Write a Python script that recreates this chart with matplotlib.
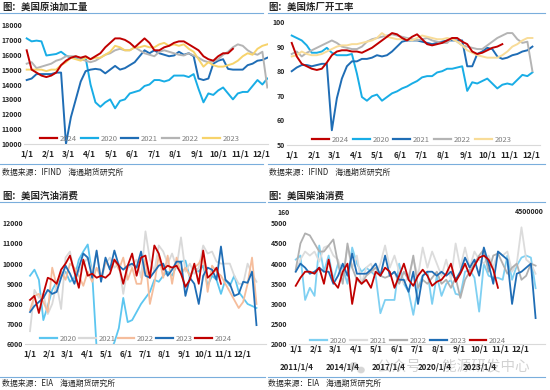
import matplotlib
matplotlib.use('Agg')
import matplotlib.pyplot as plt
from matplotlib.patches import Ellipse
from matplotlib.lines import Line2D

plt.rcParams['font.family'] = ['Noto Sans CJK SC', 'DejaVu Sans']

# ---------------- data ----------------
month_days = [0, 31, 59, 90, 120, 151, 181, 212, 243, 273, 304, 334]
month_labels = ['1/1', '2/1', '3/1', '4/1', '5/1', '6/1', '7/1', '8/1', '9/1', '10/1', '11/1', '12/1']

crude_2020 = [17100,16900,16950,16900,15950,16000,16050,16200,15950,15800,
              15800,15750,15800,14000,12800,12500,12800,13000,12400,12900,
              13000,13400,13500,13600,13900,14000,14300,14300,14200,14300,
              14600,14600,14600,14500,14700,13700,12800,13400,13300,13600,
              13800,13400,13000,13400,13500,13500,13900,14300,14000,14400]
crude_2021 = [14300,14400,14700,14700,14700,14700,14800,14800,10000,11800,
              13000,14200,14900,15000,15050,15000,14750,15000,15250,15000,
              15100,15300,15500,15900,16300,16100,16300,16100,16000,15900,
              15950,16200,16000,16100,15900,14400,14300,14400,15400,15600,
              15700,15050,15000,15000,15000,15300,15400,15600,15650,15800]
crude_2022 = [15400,15500,15100,15200,15300,15400,15600,15700,15900,15900,
              15900,15700,15600,15500,15600,15800,16000,16100,16300,16400,
              16300,16300,16500,16300,16100,16000,15900,16200,16300,16200,
              16100,16000,15950,16100,15950,15800,15600,15500,15550,15700,
              16000,16200,16500,16700,16600,16300,16100,16000,16200,13800]
crude_2023 = [15000,15000,15000,15000,14900,15000,15000,15300,15500,15800,
              15700,15600,15800,15700,15800,15800,16000,16200,16600,16500,
              16300,16300,16500,16500,16600,16500,16500,16700,16800,16600,
              16700,16600,16700,16400,16200,15700,15200,15500,15300,15200,
              15200,15300,15400,15600,15900,16100,16000,16400,16600,16700]
crude_2024 = [16300,15000,14800,14600,14500,14600,14800,15300,15600,15800,
              15900,15800,15900,15700,15900,16100,16500,16800,17100,17100,
              17000,16800,16500,16800,17100,16800,16300,16300,16500,16600,
              16800,16900,16900,16700,16500,16300,15900,15700,15600,15900,
              16100,16100,16400]

util_2020 = [94.5,93.5,92.5,90.5,87.5,87.5,88.0,89.5,87.5,86.5,
             86.5,86.5,87.0,79.0,69.5,68.0,69.8,70.5,68.0,69.5,
             71.0,71.8,73.0,73.8,75.0,76.0,77.5,78.0,78.0,79.5,
             80.0,81.0,81.0,81.5,82.0,72.0,75.5,75.0,76.0,77.0,
             75.0,73.0,74.5,75.0,74.5,76.5,78.5,78.0,79.5]
util_2021 = [80,81.5,82.5,82.5,82,82.5,83,83,56,69,
             77,82,84,84,85,85,85.5,86.5,86,86.5,
             88,90,92,92.5,92.5,92.5,92,91.5,91,91.5,
             92,92.5,92.5,92.5,92.5,82,82,87,88,89.5,
             89,86,85,85.5,86.5,87,88,88.5,90]
util_2022 = [87,88,86,87.5,88.5,89.5,90.5,91.5,92.5,91.5,
             90,89.5,89,89,90,92,93,93.5,94,94.5,
             95,94.5,94,93.5,93,92.5,93,93.5,92.5,92,
             91.5,91.5,93.5,92,90.5,90,89.5,89,89,90.5,
             92,93.5,94.5,95.5,95.5,93,91.5,92,80]
util_2023 = [86,86.5,88,87,86.5,86.5,87,88,89,90,
             90.5,90.5,91,91,91.5,92,92.5,93.5,95.5,94,
             93.5,93,93,93,92.5,93.5,94.5,94,93.5,93,
             93,93.5,93,92,90.5,88.5,87.5,86.5,86,85.5,
             85.5,85.5,86.5,88,90,91,92.5,93.5,93.5]
util_2024 = [91.5,86,83,82,81,80.5,81,83.5,86.5,88,
             88.5,88.5,88,88,87.5,88.5,89.5,91,92.5,94,
             95.5,95,93.5,92.5,94,95,93,91,90.5,91,
             91.5,92.5,93.5,93.5,92,91,88,87,87.5,88.5,
             89.5,90,91]

gas_2020 = [9400,9700,9200,7200,7900,8700,9100,9400,9600,9100,
            9300,10200,10600,10950,9500,5800,5100,5300,5600,6100,
            6800,8300,7100,7200,7600,8000,8300,8600,9200,9100,
            9400,9600,9400,9900,10100,10150,9300,9800,9600,9900,
            8900,9400,9200,8500,9200,8900,9400,8600,8300,8000,
            7900,7800]
gas_2021 = [6650,8700,8300,8500,7500,8000,9000,7750,10300,10600,
            9500,9600,10000,10300,9600,10600,9200,10000,10300,9800,
            10000,8500,9800,9900,10200,9300,11600,10200,9600,10900,
            10600,10000,10500,9800,11300,9600,10000,9500,9800,10900,
            10500,10600,10100,10000,10000,10000,9400,9000,9000,10000,
            9500,9100]
gas_2022 = [7700,8400,8500,8100,7600,9800,8900,9600,9200,10000,
            9800,9400,8900,9600,9100,9800,9300,10100,9800,10200,
            9700,10300,9200,9800,9000,9000,10300,8000,9000,10400,
            9300,10400,9000,10300,9500,9800,9400,9800,10000,10400,
            8600,9900,9600,9400,9000,8600,8200,7800,8100,9000,
            10300,8000]
gas_2023 = [7600,7900,8100,8300,8700,8500,8600,9300,9900,9500,
            9000,9800,10500,10300,9300,10650,9100,10300,9700,10650,
            9900,9700,9900,10000,9800,10600,9400,9300,9600,9900,
            10000,9400,9700,10100,10100,8400,9300,9000,8000,9400,
            9800,9700,9200,10850,9200,9000,8400,8500,9100,9050,
            9600,6950]
gas_2024 = [8200,8400,7550,8500,9300,9200,9000,9700,10000,10400,
            9600,8800,10200,9400,9500,9300,9400,9300,9500,10200,
            9900,9000,9900,10500,9400,10300,10400,9300,10900,10500,
            9700,9900,9800,9900,9500,8850,9200,10000,9000,10650,
            9300,9500,9800,9000]

diesel_2020 = [4100,4200,3100,3400,3200,4450,3800,4200,3600,4000,
               3900,3500,4400,4000,3800,3900,3800,3700,2770,3100,
               3100,3100,4000,3500,3300,2730,3400,3700,3800,3000,
               3700,3200,3500,3600,3250,3220,3800,3850,3650,2810,
               4000,3700,3650,3650,3600,4200,3600,3950,4150,4200,
               4150,3390]
diesel_2021 = [3800,4100,4300,4200,4300,4050,4400,4450,4200,4100,
               3700,4400,3900,4200,3500,3900,4000,3700,4000,4450,
               3900,4200,3800,3500,3700,4100,3700,4400,3900,4300,
               4000,3700,4100,3600,4500,3900,4400,3900,4300,4100,
               4000,4200,3900,4300,4200,4300,3800,4000,4900,4100,
               4000,3750]
diesel_2022 = [3850,4500,4750,4700,4500,4300,4300,4450,4600,4000,
               3500,4500,3900,3600,3500,3700,3800,3900,3700,3650,
               3700,3800,3500,3800,3600,4200,3400,3600,3500,3650,
               3800,3500,3600,3400,3650,3150,3600,3800,4000,4200,
               4350,3800,4200,4250,4000,3750,3900,4000,3600,3700,
               4000,3950]
diesel_2023 = [3800,4000,3900,3750,3800,3900,3800,3800,3500,3700,
               4000,3700,4250,3750,3750,3750,3850,4000,3700,4200,
               3700,3800,3600,3600,3300,3800,3000,3700,3800,3800,
               3700,3800,3700,3800,3600,3800,4150,3900,4100,3700,
               4400,4000,3500,4300,4200,4100,3000,3750,3800,3900,
               4000,2650]
diesel_2024 = [3450,3650,3800,3800,3750,3900,3500,4100,3550,3400,
               3800,4000,3000,3650,3500,3600,3400,3800,3700,3900,
               3800,3400,3700,4000,3600,3450,3700,3850,3700,3450,
               3550,3600,3750,4000,3550,3750,4000,3700,3950,4150,
               4200,4100,3850,3400]

date_row_labels = ['2011/1/4', '2014/1/4', '2017/1/4', '2020/1/4', '2023/1/4']

# ---------------- layout helpers ----------------
W, H = 550, 390
fig = plt.figure(figsize=(5.5, 3.9), dpi=100)


def rect(l, t, r, b):
    return [l / W, 1 - b / H, (r - l) / W, (b - t) / H]


def fx(x):
    return x / W


def fy(y):
    return 1 - y / H


def weeks(vals):
    return [7 * i for i in range(len(vals))]


TXT = '#262626'
LBL = '#7f7f7f'
SEP = '#7aaedc'


def setup(ax, xlim, ylim, yticks, xpad):
    ax.set_xlim(xlim)
    ax.set_ylim(ylim)
    ax.set_xticks(month_days)
    ax.set_xticklabels(month_labels, fontsize=6, fontweight='bold', color=TXT)
    ax.set_yticks(yticks)
    ax.set_yticklabels([f'{v:g}' for v in yticks], fontsize=5.0, fontweight='bold', color=TXT)
    for s in ['top', 'right', 'left']:
        ax.spines[s].set_visible(False)
    ax.spines['bottom'].set_color('#d9d9d9')
    ax.spines['bottom'].set_linewidth(0.8)
    ax.tick_params(axis='x', length=0, pad=xpad)
    ax.tick_params(axis='y', length=0, pad=1.5)
    ax.patch.set_alpha(0)


def legend(ax, handles, labels, x, y, colsp):
    ax.legend(handles, labels, loc='center left', bbox_to_anchor=(fx(x), fy(y)),
              bbox_transform=fig.transFigure, ncol=len(labels), frameon=False,
              fontsize=5.5, labelcolor=LBL, handlelength=2.2, handletextpad=0.35,
              columnspacing=colsp, borderpad=0, borderaxespad=0)


# ---------------- top-left: crude runs ----------------
axA = fig.add_axes(rect(24, 25, 268, 144))
setup(axA, (-3.85, 344), (10000, 18000), list(range(10000, 18001, 1000)), 4)
cA = {'2024': '#c00000', '2020': '#18ade6', '2021': '#1f6db5', '2022': '#b4b4b4', '2023': '#f7d36b'}
sA = {'2020': crude_2020, '2021': crude_2021, '2022': crude_2022, '2023': crude_2023, '2024': crude_2024}
for k in ['2020', '2021', '2022', '2023', '2024']:
    axA.plot(weeks(sA[k]), sA[k], color=cA[k], lw=1.4, solid_joinstyle='round')
order = ['2024', '2020', '2021', '2022', '2023']
legend(axA, [Line2D([], [], color=cA[k], lw=1.6) for k in order], order, 40, 139, 0.55)

# ---------------- top-right: utilization ----------------
axB = fig.add_axes(rect(287, 22, 540, 145))
setup(axB, (-6.6, 346.6), (50, 100), list(range(50, 101, 10)), 4)
cB = {'2024': '#c00000', '2020': '#18ade6', '2021': '#1f6db5', '2022': '#b4b4b4', '2023': '#f8dc98'}
sB = {'2020': util_2020, '2021': util_2021, '2022': util_2022, '2023': util_2023, '2024': util_2024}
for k in ['2020', '2021', '2022', '2023', '2024']:
    axB.plot(weeks(sB[k]), sB[k], color=cB[k], lw=1.4, solid_joinstyle='round')
legend(axB, [Line2D([], [], color=cB[k], lw=1.6) for k in order], order, 312, 140, 0.55)

# ---------------- bottom-left: gasoline ----------------
axC = fig.add_axes(rect(25, 223.3, 266, 344.3))
setup(axC, (-7.9, 372), (6000, 12000), list(range(6000, 12001, 1000)), 4)
cC = {'2020': '#5cc6f0', '2021': '#d9d9d9', '2022': '#f5bd9c', '2023': '#1f6db5', '2024': '#c00000'}
sC = {'2020': gas_2020, '2021': gas_2021, '2022': gas_2022, '2023': gas_2023, '2024': gas_2024}
order2 = ['2020', '2021', '2022', '2023', '2024']
for k in order2:
    axC.plot(weeks(sC[k]), sC[k], color=cC[k], lw=1.3, solid_joinstyle='round')
legend(axC, [Line2D([], [], color=cC[k], lw=1.6) for k in order2], order2, 40, 339, 0.3)

# ---------------- bottom-right: diesel ----------------
axD = fig.add_axes(rect(289, 223.3, 545, 344.3))
setup(axD, (-10, 371), (2000, 5000), list(range(2000, 5001, 500)), 0.5)
cD = {'2020': '#7fd0f2', '2021': '#dcdcdc', '2022': '#b0b0b0', '2023': '#1f6db5', '2024': '#c00000'}
sD = {'2020': diesel_2020, '2021': diesel_2021, '2022': diesel_2022, '2023': diesel_2023, '2024': diesel_2024}
for k in order2:
    axD.plot(weeks(sD[k]), sD[k], color=cD[k], lw=1.3, solid_joinstyle='round')
legend(axD, [Line2D([], [], color=cD[k], lw=1.6) for k in order2], order2, 310, 341, 0.45)

# ---------------- titles, sources, separators ----------------
fig.text(fx(2), fy(7), '图：美国原油加工量', fontsize=6.8, fontweight='bold', color=TXT, va='center')
fig.text(fx(268), fy(7), '图：美国炼厂开工率', fontsize=6.8, fontweight='bold', color=TXT, va='center')
fig.text(fx(2), fy(196), '图：美国汽油消费', fontsize=6.8, fontweight='bold', color=TXT, va='center')
fig.text(fx(268), fy(196), '图：美国柴油消费', fontsize=6.8, fontweight='bold', color=TXT, va='center')

fig.text(fx(2), fy(172), '数据来源：IFIND    海通期货研究所', fontsize=5.7, color=TXT, va='center')
fig.text(fx(269), fy(172), '数据来源：IFIND    海通期货研究所', fontsize=5.7, color=TXT, va='center')
fig.text(fx(2), fy(383), '数据来源：EIA    海通期货研究所', fontsize=5.7, color=TXT, va='center')
fig.text(fx(268), fy(383), '数据来源：EIA    海通期货研究所', fontsize=5.7, color=TXT, va='center')

for (x0, x1, y) in [(0, 263, 12.5), (268, 545, 12.5), (0, 263, 164), (268, 545, 164),
                    (0, 265, 202), (268, 545, 202), (0, 265, 377), (268, 545, 377)]:
    fig.add_artist(Line2D([fx(x0), fx(x1)], [fy(y), fy(y)], color=SEP, lw=0.8,
                          transform=fig.transFigure))

# secondary-axis remnants in the diesel panel
fig.text(fx(284), fy(213), '160', fontsize=5, fontweight='bold', color=TXT, ha='center', va='center')
fig.text(fx(529), fy(212), '4500000', fontsize=5, fontweight='bold', color=TXT, ha='center', va='center')
for lab, x in zip(date_row_labels, [297, 343, 389, 435, 480]):
    fig.text(fx(x), fy(367), lab, fontsize=5.7, fontweight='bold', color=TXT, ha='center', va='center')

# ---------------- watermark ----------------
wm = '#b5b5b5'
fig.add_artist(Ellipse((fx(354), fy(366)), 9 / W, 8 / H, transform=fig.transFigure,
                       facecolor=wm, edgecolor='none', alpha=0.55, zorder=0))
fig.add_artist(Ellipse((fx(361), fy(370)), 8 / W, 7 / H, transform=fig.transFigure,
                       facecolor=wm, edgecolor='white', lw=0.5, alpha=0.55, zorder=0))
fig.text(fx(377), fy(368), '公众号 · 能源研发中心', fontsize=10.5, color=wm, alpha=0.6,
         ha='left', va='center', zorder=0)

fig.savefig('out.png', dpi=100)
